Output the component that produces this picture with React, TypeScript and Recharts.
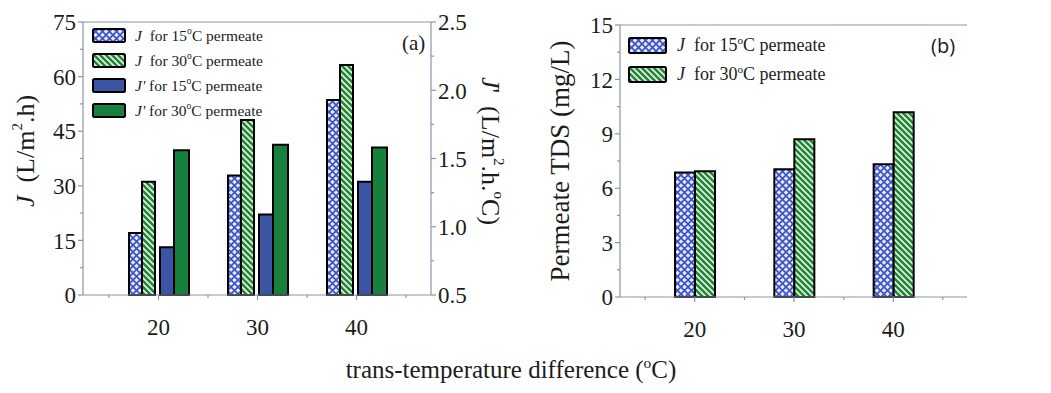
import React from "react";
import { BarChart, Bar, XAxis, YAxis, ReferenceLine } from "recharts";

// trans-temperature difference (°C)
const tempDiffs = ["20", "30", "40"];
// (a) permeate flux J (L/m2.h), left axis
const fluxCold = [17.0, 32.8, 53.6];
const fluxHot = [31.1, 48.1, 63.2];
// (a) normalised flux J' (L/m2.h.°C), right axis
const normCold = [0.85, 1.09, 1.33];
const normHot = [1.56, 1.6, 1.58];
// (b) permeate TDS (mg/L)
const tdsCold = [6.86, 7.04, 7.32];
const tdsHot = [6.93, 8.7, 10.19];

const fluxTicks = [0, 7.5, 15, 22.5, 30, 37.5, 45, 52.5, 60, 67.5, 75];
const normTicks = [0.5, 0.75, 1, 1.25, 1.5, 1.75, 2, 2.25, 2.5];
const tdsTicks = [0, 1.5, 3, 4.5, 6, 7.5, 9, 10.5, 12, 13.5, 15];

const fluxData = tempDiffs.map((dt, i) => ({
  dt,
  jCold: fluxCold[i],
  jHot: fluxHot[i],
  jpCold: normCold[i],
  jpHot: normHot[i],
}));
const tdsData = tempDiffs.map((dt, i) => ({ dt, cold: tdsCold[i], hot: tdsHot[i] }));

const AXIS = "#8796a8";
const INK = "#1c1c1c";
const SERIF = '"Liberation Serif", "Times New Roman", serif';
const BLUE = "#3c54a4";
const GREEN = "#17803c";

const serifText = { fontFamily: SERIF };

function YTick(props: any) {
  const { x, y, payload, orientation, step, digits } = props;
  const r = payload.value / step;
  const major = Math.abs(r - Math.round(r)) < 1e-6;
  const dir = orientation === "right" ? 1 : -1;
  const len = major ? 5 : 3;
  return (
    <g>
      <line x1={x} x2={x + dir * len} y1={y} y2={y} stroke={AXIS} strokeWidth={1.2} />
      {major && (
        <text
          x={x + dir * (len + 2)}
          y={y}
          dy="0.36em"
          textAnchor={dir < 0 ? "end" : "start"}
          style={serifText}
          fontSize={23}
          fill={INK}
        >
          {payload.value.toFixed(digits)}
        </text>
      )}
    </g>
  );
}

function XTick(props: any) {
  const { x, y, payload, half, index, visibleTicksCount } = props;
  const last = index === visibleTicksCount - 1;
  return (
    <g>
      <line x1={x} x2={x} y1={y} y2={y + 5} stroke={AXIS} strokeWidth={1.2} />
      <line x1={x - half} x2={x - half} y1={y} y2={y + 3} stroke={AXIS} strokeWidth={1.2} />
      {last && <line x1={x + half} x2={x + half} y1={y} y2={y + 3} stroke={AXIS} strokeWidth={1.2} />}
      <text x={x} y={y + 40} textAnchor="middle" style={serifText} fontSize={23} fill={INK}>
        {payload.value}
      </text>
    </g>
  );
}

const sup = (t: string, size = 15) => (
  <tspan baselineShift="super" fontSize={size}>
    {t}
  </tspan>
);

function FluxTitle() {
  return (
    <text x={25} y={151} transform="rotate(-90 25 151)" textAnchor="middle" dominantBaseline="central"
      style={serifText} fontSize={26} fill={INK}>
      <tspan fontStyle="italic">J</tspan>
      <tspan>{"\u00a0\u00a0(L/m"}</tspan>
      {sup("2")}
      <tspan>.h)</tspan>
    </text>
  );
}

function NormTitle() {
  return (
    <text x={491} y={151} transform="rotate(90 491 151)" textAnchor="middle" dominantBaseline="central"
      style={serifText} fontSize={26} fill={INK}>
      <tspan fontStyle="italic">J</tspan>
      <tspan>{"'\u00a0\u00a0(L/m"}</tspan>
      {sup("2")}
      <tspan>.h.</tspan>
      {sup("o")}
      <tspan>C)</tspan>
    </text>
  );
}

function TdsTitle() {
  return (
    <text x={40} y={161} transform="rotate(-90 40 161)" textAnchor="middle" dominantBaseline="central"
      style={serifText} fontSize={27} fill={INK}>
      Permeate TDS (mg/L)
    </text>
  );
}

const Sup = ({ children }: { children: React.ReactNode }) => (
  <span style={{ fontSize: "0.62em", position: "relative", top: "-0.65em" }}>{children}</span>
);

const legendA = [
  { fill: "url(#crossBlue)", label: <><i>J</i>{"\u00a0 for 15"}<Sup>o</Sup>C permeate</> },
  { fill: "url(#stripeGreen)", label: <><i>J</i>{"\u00a0 for 30"}<Sup>o</Sup>C permeate</> },
  { fill: BLUE, label: <><i>J'</i>{" for 15"}<Sup>o</Sup>C permeate</> },
  { fill: GREEN, label: <><i>J'</i>{" for 30"}<Sup>o</Sup>C permeate</> },
];
const legendB = legendA.slice(0, 2);

function LegendBox({ items, left, top, row, swW, swH, gap, fontSize }: any) {
  return (
    <div style={{ position: "absolute", left, top, fontFamily: SERIF, fontSize, color: INK }}>
      {items.map((it: any, i: number) => (
        <div key={i} style={{ display: "flex", alignItems: "center", height: row, whiteSpace: "nowrap" }}>
          <svg width={swW} height={swH} style={{ display: "block" }}>
            <rect x={1} y={1} width={swW - 2} height={swH - 2} rx={1.5} fill={it.fill} stroke="#000" strokeWidth={2} />
          </svg>
          <span style={{ marginLeft: gap }}>{it.label}</span>
        </div>
      ))}
    </div>
  );
}

export default function App() {
  return (
    <div style={{ position: "absolute", left: 0, top: 0, width: 1051, height: 393, background: "#fff", overflow: "hidden" }}>
      <svg width={0} height={0} style={{ position: "absolute" }}>
        <defs>
          <pattern id="crossBlue" patternUnits="userSpaceOnUse" width={7} height={7}>
            <rect width={7} height={7} fill="#f8e2f0" />
            <path d="M-1,-1 L8,8 M8,-1 L-1,8" stroke="#2f58d0" strokeWidth={1.7} />
          </pattern>
          <pattern id="stripeGreen" patternUnits="userSpaceOnUse" width={6} height={6}>
            <rect width={6} height={6} fill="#f4f2c4" />
            <path d="M-1,-1 L7,7 M-1,5 L1,7 M5,-1 L7,1" stroke="#15874a" strokeWidth={2.5} />
          </pattern>
        </defs>
      </svg>

      <div style={{ position: "absolute", left: 0, top: 0 }}>
        <BarChart width={520} height={345} data={fluxData} margin={{ top: 22, right: 0, bottom: 0, left: 0 }} barGap={0}>
          <XAxis dataKey="dt" height={50} padding={{ left: 26, right: 25 }} interval={0}
            axisLine={{ stroke: AXIS, strokeWidth: 1.2 }} tickLine={false} tickSize={0} tickMargin={0}
            tick={<XTick half={49.5} />} />
          <YAxis yAxisId="left" width={83} domain={[0, 75]} ticks={fluxTicks} interval={0}
            axisLine={{ stroke: AXIS, strokeWidth: 1.2 }} tickLine={false} tickSize={0} tickMargin={0}
            tick={<YTick step={15} digits={0} />} label={() => <FluxTitle />} />
          <YAxis yAxisId="right" orientation="right" width={89} domain={[0.5, 2.5]} ticks={normTicks} interval={0}
            axisLine={{ stroke: AXIS, strokeWidth: 1.2 }} tickLine={false} tickSize={0} tickMargin={0}
            tick={<YTick step={0.5} digits={1} />} label={() => <NormTitle />} />
          <ReferenceLine yAxisId="left" y={75} stroke={AXIS} strokeWidth={1.2} />
          <Bar yAxisId="left" dataKey="jCold" barSize={13} fill="url(#crossBlue)" stroke="#000" strokeWidth={2} isAnimationActive={false} />
          <Bar yAxisId="left" dataKey="jHot" barSize={13} fill="url(#stripeGreen)" stroke="#000" strokeWidth={2} isAnimationActive={false} />
          <Bar yAxisId="left" dataKey="gap" barSize={5} fill="none" stroke="none" legendType="none" isAnimationActive={false} />
          <Bar yAxisId="right" dataKey="jpCold" barSize={14} fill={BLUE} stroke="#000" strokeWidth={2} isAnimationActive={false} />
          <Bar yAxisId="right" dataKey="jpHot" barSize={15} fill={GREEN} stroke="#000" strokeWidth={2} isAnimationActive={false} />
        </BarChart>
      </div>

      <div style={{ position: "absolute", left: 520, top: 0 }}>
        <BarChart width={531} height={345} data={tdsData} margin={{ top: 25, right: 84, bottom: 0, left: 0 }} barGap={0}>
          <XAxis dataKey="dt" height={48} padding={{ left: 25, right: 24 }} interval={0}
            axisLine={{ stroke: AXIS, strokeWidth: 1.2 }} tickLine={false} tickSize={0} tickMargin={0}
            tick={<XTick half={49.5} />} />
          <YAxis width={100} domain={[0, 15]} ticks={tdsTicks} interval={0}
            axisLine={{ stroke: AXIS, strokeWidth: 1.2 }} tickLine={false} tickSize={0} tickMargin={0}
            tick={<YTick step={3} digits={0} />} label={() => <TdsTitle />} />
          <ReferenceLine y={15} stroke={AXIS} strokeWidth={1.2} />
          <Bar dataKey="cold" barSize={20} fill="url(#crossBlue)" stroke="#000" strokeWidth={2} isAnimationActive={false} />
          <Bar dataKey="hot" barSize={20} fill="url(#stripeGreen)" stroke="#000" strokeWidth={2} isAnimationActive={false} />
        </BarChart>
      </div>

      <LegendBox items={legendA} left={92} top={23} row={25} swW={34} swH={15} gap={9} fontSize={15.5} />
      <LegendBox items={legendB} left={628} top={31} row={29} swW={39} swH={17} gap={10} fontSize={18} />

      <div style={{ position: "absolute", left: 402, top: 31, fontFamily: SERIF, fontSize: 21, color: INK }}>(a)</div>
      <div style={{ position: "absolute", left: 931, top: 32, fontFamily: '"Open Sans", sans-serif', fontSize: 20, color: INK }}>(b)</div>

      <div style={{ position: "absolute", left: 0, width: 1022, top: 356, textAlign: "center", fontFamily: SERIF, fontSize: 25, color: INK, whiteSpace: "nowrap" }}>
        trans-temperature difference (<Sup>o</Sup>C)
      </div>
    </div>
  );
}
